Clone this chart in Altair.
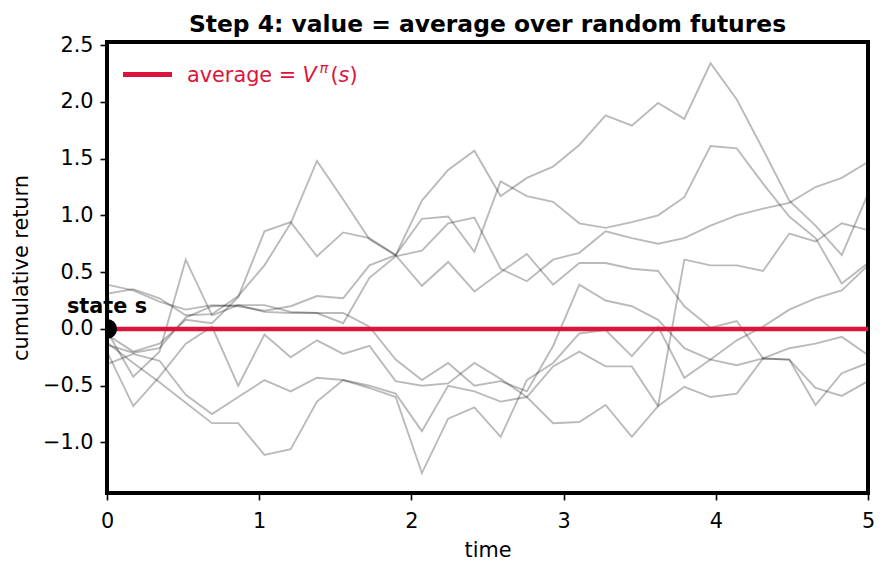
import altair as alt
import pandas as pd

# ---------------- data ----------------
time = [0.0, 0.1724, 0.3448, 0.5172, 0.6897, 0.8621, 1.0345, 1.2069, 1.3793, 1.5517,
        1.7241, 1.8966, 2.0690, 2.2414, 2.4138, 2.5862, 2.7586, 2.9310, 3.1034, 3.2759,
        3.4483, 3.6207, 3.7931, 3.9655, 4.1379, 4.3103, 4.4828, 4.6552, 4.8276, 5.0]

path_1 = [-0.05, -0.20, -0.13, 0.08, 0.05, 0.28, 0.86, 0.94, 0.64, 0.85, 0.80, 0.65, 1.13, 1.40, 1.57,
          1.17, 1.33, 1.43, 1.62, 1.88, 1.79, 1.99, 1.85, 2.34, 2.02, 1.58, 1.13, 0.91, 0.65, 1.19]
path_2 = [0.39, 0.34, 0.24, 0.17, 0.21, 0.20, 0.16, 0.20, 0.29, 0.27, 0.56, 0.65, 0.97, 0.99, 0.68,
          1.30, 1.17, 1.12, 0.93, 0.89, 0.94, 1.00, 1.16, 1.61, 1.59, 1.28, 0.99, 0.80, 0.40, 0.58]
path_3 = [0.31, 0.35, 0.27, 0.12, 0.13, 0.29, 0.56, 0.93, 1.48, 1.14, 0.79, 0.65, 0.38, 0.59, 0.33,
          0.50, 0.66, 0.39, 0.58, 0.58, 0.53, 0.51, 0.20, 0.01, 0.07, -0.26, -0.17, -0.13, -0.07, -0.23]
path_4 = [-0.14, -0.21, -0.17, 0.10, 0.20, 0.21, 0.15, 0.14, 0.14, 0.05, 0.45, 0.64, 0.69, 0.93, 0.98,
          0.53, 0.42, 0.61, 0.67, 0.86, 0.80, 0.75, 0.80, 0.91, 1.00, 1.06, 1.11, 1.25, 1.33, 1.47]
path_5 = [-0.12, -0.30, -0.47, -0.65, -0.83, -0.83, -1.11, -1.06, -0.64, -0.45, -0.52, -0.60, -1.27, -0.79, -0.69,
          -0.95, -0.45, -0.30, -0.04, -0.01, -0.24, 0.02, -0.43, -0.27, -0.10, 0.02, 0.17, 0.27, 0.34, 0.56]
path_6 = [-0.20, -0.68, -0.42, -0.13, 0.02, -0.50, -0.05, -0.25, -0.10, -0.22, -0.15, -0.46, -0.50, -0.48, -0.30,
          -0.44, -0.60, -0.83, -0.82, -0.67, -0.95, -0.68, 0.61, 0.56, 0.56, 0.51, 0.84, 0.77, 0.93, 0.87]
path_7 = [-0.02, -0.42, -0.20, 0.61, 0.12, 0.21, 0.21, 0.15, 0.14, 0.14, 0.02, -0.27, -0.45, -0.30, -0.50,
          -0.46, -0.55, -0.15, 0.39, 0.25, 0.20, 0.08, -0.17, -0.27, -0.32, -0.26, -0.27, -0.67, -0.39, -0.30]
path_8 = [-0.31, -0.22, -0.28, -0.58, -0.75, -0.60, -0.45, -0.55, -0.43, -0.45, -0.50, -0.57, -0.90, -0.50, -0.55,
          -0.64, -0.60, -0.33, -0.20, -0.33, -0.33, -0.68, -0.51, -0.60, -0.57, -0.26, -0.27, -0.52, -0.59, -0.46]

paths = {"p1": path_1, "p2": path_2, "p3": path_3, "p4": path_4,
         "p5": path_5, "p6": path_6, "p7": path_7, "p8": path_8}

average_value = [0.0]
time_span = [0.0, 5.0]
state_time = [0.0]
state_value = [0.0]

y_ticks = [-1.0, -0.5, 0.0, 0.5, 1.0, 1.5, 2.0, 2.5]
x_ticks = [0, 1, 2, 3, 4, 5]

title_text = "Step 4: value = average over random futures"
state_text = "state s"

# ---------------- tables ----------------
rows = []
for name, vals in paths.items():
    for t, v in zip(time, vals):
        rows.append({"time": t, "value": v, "path": name})
df_paths = pd.DataFrame(rows)
df_avg = pd.DataFrame({"t0": [time_span[0]], "t1": [time_span[1]], "v": average_value})
df_state = pd.DataFrame({"time": state_time, "value": state_value, "label": [state_text]})

RED = "#DC143C"
FONT = "DejaVu Sans"
FS = 20.8

xscale = alt.Scale(domain=[0, 5], nice=False, zero=False)
yscale = alt.Scale(domain=[-1.445, 2.527], nice=False, zero=False)

xaxis = alt.Axis(values=x_ticks, format="d", title="time", labelFlush=False, labelOverlap=False,
                 titlePadding=10, labelPadding=11)
yaxis = alt.Axis(values=y_ticks, title="cumulative return", labelFlush=False, labelOverlap=False,
                 labelExpr="replace(format(datum.value, '.1f'), '-', '\u2212')",
                 titlePadding=11, labelPadding=7)

lines = alt.Chart(df_paths).mark_line(color="black", opacity=0.27, strokeWidth=1.9).encode(
    x=alt.X("time:Q", scale=xscale, axis=xaxis),
    y=alt.Y("value:Q", scale=yscale, axis=yaxis),
    detail="path:N",
)

avg = alt.Chart(df_avg).mark_rule(color=RED, strokeWidth=4.6).encode(
    x=alt.X("t0:Q", scale=xscale), x2="t1:Q", y=alt.Y("v:Q", scale=yscale)
)

dot = alt.Chart(df_state).mark_circle(color="black", opacity=1, size=400, clip=True).encode(
    x=alt.X("time:Q", scale=xscale), y=alt.Y("value:Q", scale=yscale)
)

state_lbl = alt.Chart(df_state).mark_text(
    font=FONT, fontSize=FS, fontWeight="bold", color="black", align="center",
    baseline="alphabetic", dy=-16
).encode(x=alt.X("time:Q", scale=xscale), y=alt.Y("value:Q", scale=yscale), text="label:N")

one = pd.DataFrame({"k": [0]})

def txt(s, x, y, size=FS, style="normal", weight="normal", color=RED, align="left"):
    return alt.Chart(one).mark_text(
        font=FONT, fontSize=size, fontStyle=style, fontWeight=weight, color=color,
        align=align, baseline="alphabetic"
    ).encode(x=alt.value(x), y=alt.value(y), text=alt.value(s))

legend_line = alt.Chart(one).mark_rule(color=RED, strokeWidth=4.8).encode(
    x=alt.value(16), x2=alt.value(65), y=alt.value(32.5)
)
legend_parts = [
    txt("average =", 80, 40),
    txt("V", 195.5, 40, style="italic"),
    txt("\u03c0", 212.5, 30.5, size=14.6, style="italic"),
    txt("(", 223.5, 40),
    txt("s", 231.5, 40, style="italic"),
    txt(")", 242.5, 40),
]

title = txt(title_text, 380.5, -10, size=23.4, weight="bold", color="black", align="center")

chart = alt.layer(lines, avg, dot, state_lbl, legend_line, *legend_parts, title).properties(
    width=761, height=451,
    autosize=alt.AutoSizeParams(type="none"),
    padding={"left": 107, "top": 42, "right": 19, "bottom": 78},
).configure_view(
    stroke="black", strokeWidth=4
).configure_axis(
    grid=False, domain=False, tickColor="black", tickWidth=1.6, tickSize=7,
    labelFont=FONT, labelFontSize=FS, labelColor="black",
    titleFont=FONT, titleFontSize=FS, titleFontWeight="normal", titleColor="black",
)

chart.save("out.html", embed_options={"renderer": "svg", "actions": False})
